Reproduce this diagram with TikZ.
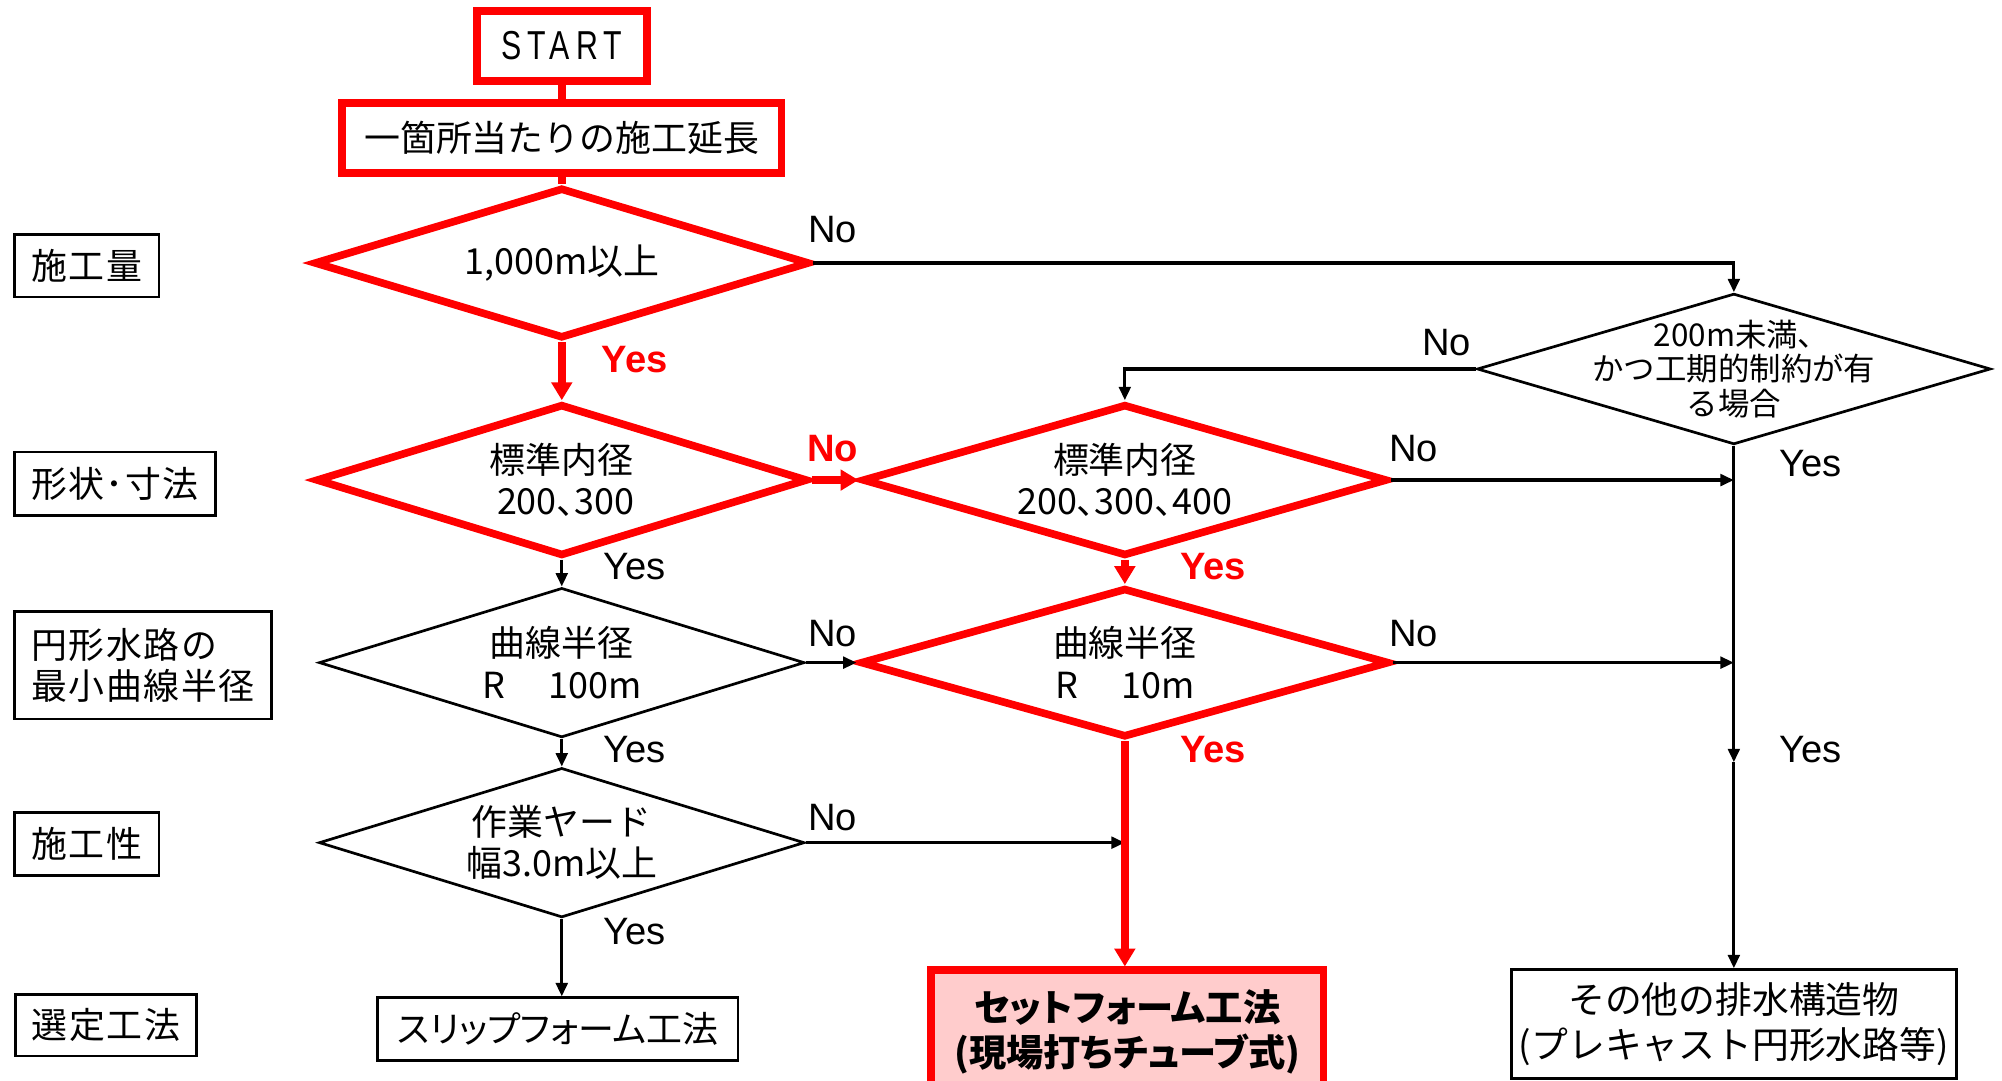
\documentclass[tikz,border=0pt]{standalone}
\usepackage{fontspec}
\setmainfont{Noto Sans CJK JP}
\newfontfamily\latin{Liberation Sans}
\newfontfamily\narrow{Liberation Sans}[FakeStretch=0.75]
\usetikzlibrary{shapes.geometric,arrows.meta}
\definecolor{setpink}{RGB}{255,204,204}

\begin{document}
\begin{tikzpicture}[x=0.01cm, y=-0.01cm,
    every node/.style={inner sep=0pt, font=\fontsize{8}{9.2}\selectfont},
    redbox/.style={draw=red, line width=1.7pt, rectangle, align=center},
    blkbox/.style={draw=black, line width=0.6pt, rectangle, align=center},
    reddia/.style={draw=red, line width=1.7pt, diamond, aspect=3.3, align=center},
    blkdia/.style={draw=black, line width=0.6pt, diamond, aspect=3.3, align=center},
    redline/.style={draw=red, line width=1.7pt},
    redarrow/.style={redline, -{Triangle[length=4pt,width=4.5pt]}},
    blkarrow/.style={draw=black, line width=0.7pt, -{Triangle[length=3pt,width=2.6pt]}},
    ans/.style={font=\latin\fontsize{8.5}{10}\selectfont},
    redans/.style={font=\latin\bfseries\fontsize{8.5}{10}\selectfont, text=red}]
    \useasboundingbox (0,0) rectangle (1568,846);
    % left column: criteria
    \node[blkbox, minimum width=1.13cm, minimum height=0.49cm] (lab1) at (68,208) {\addfontfeature{LetterSpace=4}施工量};
    \node[blkbox, minimum width=1.57cm, minimum height=0.50cm] (lab2) at (90,379) {\addfontfeature{LetterSpace=4}形状･寸法};
    \node[blkbox, minimum width=2.01cm, minimum height=0.84cm, align=left] (lab3) at (112,521) {\addfontfeature{LetterSpace=4}円形水路の\\\addfontfeature{LetterSpace=4}最小曲線半径};
    \node[blkbox, minimum width=1.13cm, minimum height=0.49cm] (lab4) at (68,661) {\addfontfeature{LetterSpace=4}施工性};
    \node[blkbox, minimum width=1.42cm, minimum height=0.48cm] (lab5) at (83,803) {\addfontfeature{LetterSpace=4}選定工法};
    % start and length
    \node[redbox, minimum width=1.33cm, minimum height=0.55cm] (start) at (440,36) {\narrow\fontsize{9}{10}\selectfont\addfontfeature{LetterSpace=15}START};
    \node[redbox, minimum width=3.44cm, minimum height=0.55cm] (len) at (440,108) {一箇所当たりの施工延長};
    % decisions
    \node[reddia, minimum width=3.88cm, minimum height=1.18cm] (d1) at (440,206) {1,000m以上};
    \node[blkdia, minimum width=4.02cm, minimum height=1.18cm] (d5) at (1358,289) {};
    \node[align=center, font=\fontsize{7}{7.7}\selectfont] (d5txt) at (d5.center) {\addfontfeature{RawFeature=+palt}200m未満、\\かつ工期的制約が有\\る場合};
    \node[reddia, minimum width=3.85cm, minimum height=1.19cm] (d2) at (440,376) {標準内径\\\ \addfontfeature{RawFeature=+palt}200、300};
    \node[reddia, minimum width=4.11cm, minimum height=1.19cm] (d3) at (881,376) {標準内径\\\addfontfeature{RawFeature=+palt}200、300、400};
    \node[blkdia, minimum width=3.80cm, minimum height=1.17cm] (d4) at (440,519) {曲線半径\\R\hspace{1.2em}100m};
    \node[reddia, minimum width=4.14cm, minimum height=1.17cm] (d6) at (881,519) {曲線半径\\R\hspace{1.2em}10m};
    \node[blkdia, minimum width=3.80cm, minimum height=1.17cm] (d7) at (440,660) {作業ヤード\\幅3.0m以上};
    % results
    \node[blkbox, minimum width=2.82cm, minimum height=0.49cm] (slip) at (437,806) {\addfontfeature{RawFeature=+palt}スリップフォーム工法};
    \node[redbox, fill=setpink, minimum width=3.07cm, minimum height=0.96cm, font=\bfseries\fontsize{8.3}{10}\selectfont] (set) at (883,808) {\addfontfeature{RawFeature=+palt}セットフォーム工法\\\addfontfeature{RawFeature=+palt}(現場打ちチューブ式)};
    \node[blkbox, minimum width=3.48cm, minimum height=0.85cm, font=\fontsize{8.2}{10}\selectfont] (other) at (1358,802) {その他の排水構造物\\(プレキャスト円形水路等)};
    \coordinate (mid) at (1358,597);
    % connectors
    \draw[redline] (start.south) -- (len.north);
    \draw[redline] (len.south) -- (d1.north);
    \draw[redarrow] (d1.south) -- (d2.north);
    \draw[blkarrow] (d1.east) -| (d5.north);
    \draw[blkarrow] (d5.west) -| (d3.north);
    \draw[redarrow] (d2.east) -- (d3.west);
    \draw[blkarrow] (d3.east) -- (d3.east -| d5.south);
    \draw[blkarrow] (d2.south) -- (d4.north);
    \draw[redarrow] (d3.south) -- (d6.north);
    \draw[blkarrow] (d4.east) -- (d6.west);
    \draw[blkarrow] (d6.east) -- (d6.east -| d5.south);
    \draw[blkarrow] (d4.south) -- (d7.north);
    \draw[blkarrow] (d7.east) -- (d7.east -| d6.south);
    \draw[redarrow] (d6.south) -- (d6.south |- set.north);
    \draw[blkarrow] (d7.south) -- (d7.south |- slip.north);
    \draw[blkarrow] (d5.south) -- (mid);
    \draw[blkarrow] (mid) -- (other.north);
    % yes / no
    \node[ans] (no1) at (652,180) {No};
    \node[redans] (yes1) at (497,282) {Yes};
    \node[ans] (no5) at (1133,268) {No};
    \node[redans] (no2) at (652,351) {No};
    \node[ans] (no3) at (1107,351) {No};
    \node[ans] (yes5) at (1418,363) {Yes};
    \node[ans] (yes2) at (497,444) {Yes};
    \node[redans] (yes3) at (950,444) {Yes};
    \node[ans] (no4) at (652,496) {No};
    \node[ans] (no6) at (1107,496) {No};
    \node[ans] (yes4) at (497,587) {Yes};
    \node[redans] (yes6) at (950,587) {Yes};
    \node[ans] (yes5b) at (1418,587) {Yes};
    \node[ans] (no7) at (652,640) {No};
    \node[ans] (yes7) at (497,730) {Yes};
\end{tikzpicture}
\end{document}
